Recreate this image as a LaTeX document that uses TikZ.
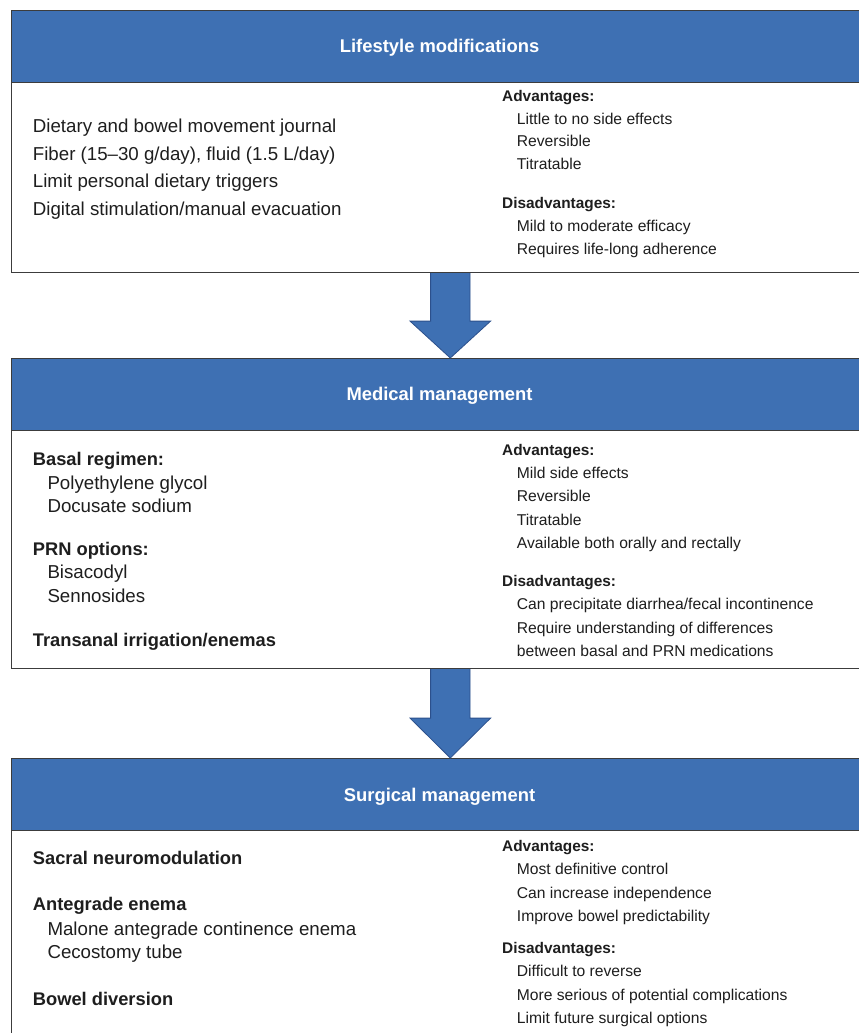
\documentclass[tikz,border=0pt]{standalone}
\usepackage{fontspec}
\setmainfont{Liberation Sans}
\usetikzlibrary{calc}
\definecolor{hdrblue}{RGB}{62,112,179}
\definecolor{arrowline}{RGB}{44,80,140}
\definecolor{boxline}{RGB}{60,60,60}
\definecolor{txt}{RGB}{30,30,30}
\begin{document}
\begin{tikzpicture}[x=1pt,y=-1pt,
  panel/.style={draw=boxline, line width=1.1pt, fill=white, rectangle, anchor=north west, minimum width=856pt, inner sep=0pt},
  hdr/.style={panel, fill=hdrblue, minimum height=72pt},
  hdrtext/.style={anchor=base, text=white, font=\fontsize{18.4}{22}\selectfont\bfseries, inner sep=0pt},
  lt/.style={anchor=base west, inner sep=0pt, text=txt, font=\fontsize{18.7}{22}\selectfont},
  ltb/.style={anchor=base west, inner sep=0pt, text=txt, font=\fontsize{18.3}{22}\selectfont\bfseries},
  rt/.style={anchor=base west, inner sep=0pt, text=txt, font=\fontsize{15.65}{19}\selectfont},
  rtb/.style={anchor=base west, inner sep=0pt, text=txt, font=\fontsize{15.4}{19}\selectfont\bfseries},
  bigarrow/.style={fill=hdrblue, draw=arrowline, line width=0.8pt, line join=miter}
]
\useasboundingbox (0,0) rectangle (859,1033);
\fill[white] (0,0) rectangle (859,1033);

% ---------- panel 1 ----------
\node[panel, minimum height=190pt] (b1) at (11,82) {};
\node[hdr] (h1) at (11,10) {};
\node[hdrtext] (h1t) at ($(h1.center)+(0,5.7)$) {Lifestyle modifications};

\node[lt] (l1a) at (32.7,132.3) {Dietary and bowel movement journal};
\node[lt] (l1b) at (32.7,160) {Fiber (15--30 g/day), fluid (1.5 L/day)};
\node[lt] (l1c) at (32.7,187.5) {Limit personal dietary triggers};
\node[lt] (l1d) at (32.7,215) {Digital stimulation/manual evacuation};

\node[rtb] (r1a) at (502,101) {Advantages:};
\node[rt] (r1b) at (516.7,124) {Little to no side effects};
\node[rt] (r1c) at (516.7,146.5) {Reversible};
\node[rt] (r1d) at (516.7,169) {Titratable};
\node[rtb] (r1e) at (502,208.5) {Disadvantages:};
\node[rt] (r1f) at (516.7,231.5) {Mild to moderate efficacy};
\node[rt] (r1g) at (516.7,254.5) {Requires life-long adherence};

% ---------- panel 2 ----------
\node[panel, minimum height=238pt] (b2) at (11,430) {};
\node[hdr] (h2) at (11,358) {};
\node[hdrtext] (h2t) at ($(h2.center)+(0,5.7)$) {Medical management};

\node[ltb] (l2a) at (32.7,465.3) {Basal regimen:};
\node[lt] (l2b) at (47.3,489.3) {Polyethylene glycol};
\node[lt] (l2c) at (47.3,512.2) {Docusate sodium};
\node[ltb] (l2d) at (32.7,555.7) {PRN options:};
\node[lt] (l2e) at (47.3,578.8) {Bisacodyl};
\node[lt] (l2f) at (47.3,602) {Sennosides};
\node[ltb] (l2g) at (32.7,646.2) {Transanal irrigation/enemas};

\node[rtb] (r2a) at (502,455) {Advantages:};
\node[rt] (r2b) at (516.7,478.3) {Mild side effects};
\node[rt] (r2c) at (516.7,501.7) {Reversible};
\node[rt] (r2d) at (516.7,525) {Titratable};
\node[rt] (r2e) at (516.7,548.3) {Available both orally and rectally};
\node[rtb] (r2f) at (502,586.3) {Disadvantages:};
\node[rt] (r2g) at (516.7,609.6) {Can precipitate diarrhea/fecal incontinence};
\node[rt] (r2h) at (516.7,633) {Require understanding of differences};
\node[rt] (r2i) at (516.7,656.3) {between basal and PRN medications};

% ---------- panel 3 ----------
\node[panel, minimum height=215pt] (b3) at (11,830) {};
\node[hdr] (h3) at (11,758) {};
\node[hdrtext] (h3t) at ($(h3.center)+(0,6.5)$) {Surgical management};

\node[ltb] (l3a) at (32.7,864.8) {Sacral neuromodulation};
\node[ltb] (l3b) at (32.7,910.8) {Antegrade enema};
\node[lt] (l3c) at (47.3,935) {Malone antegrade continence enema};
\node[lt] (l3d) at (47.3,958.2) {Cecostomy tube};
\node[ltb] (l3e) at (32.7,1005) {Bowel diversion};

\node[rtb] (r3a) at (502,851.5) {Advantages:};
\node[rt] (r3b) at (516.7,874.7) {Most definitive control};
\node[rt] (r3c) at (516.7,898.2) {Can increase independence};
\node[rt] (r3d) at (516.7,921.2) {Improve bowel predictability};
\node[rtb] (r3e) at (502,953.2) {Disadvantages:};
\node[rt] (r3f) at (516.7,976.8) {Difficult to reverse};
\node[rt] (r3g) at (516.7,1000.6) {More serious of potential complications};
\node[rt] (r3h) at (516.7,1023.6) {Limit future surgical options};

% ---------- arrows between panels ----------
\coordinate (a1s) at (b1.south -| 450.3,0);
\coordinate (a1e) at (h2.north -| 450.3,0);
\draw[bigarrow] ($(a1s)+(-19.7,0)$) -- ($(a1s)+(-19.7,48)$) -- ($(a1s)+(-40.3,48)$)
  -- (a1e) -- ($(a1s)+(40.3,48)$) -- ($(a1s)+(19.7,48)$) -- ($(a1s)+(19.7,0)$);

\coordinate (a2s) at (b2.south -| 450.3,0);
\coordinate (a2e) at (h3.north -| 450.3,0);
\draw[bigarrow] ($(a2s)+(-19.7,0)$) -- ($(a2s)+(-19.7,49)$) -- ($(a2s)+(-40.3,49)$)
  -- (a2e) -- ($(a2s)+(40.3,49)$) -- ($(a2s)+(19.7,49)$) -- ($(a2s)+(19.7,0)$);
\end{tikzpicture}
\end{document}
